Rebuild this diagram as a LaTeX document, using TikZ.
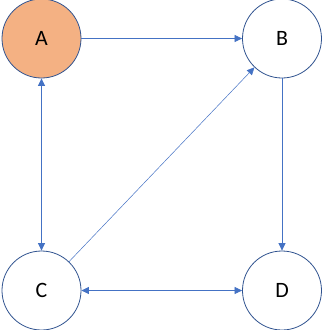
\documentclass[tikz,border=0pt]{standalone}
\usepackage{fontspec}
\setmainfont{Carlito}
\usepackage{tikz}
\usetikzlibrary{arrows.meta, positioning}
\definecolor{nodeOrange}{HTML}{F4B183}
\definecolor{nodeBorder}{HTML}{2F528F}
\definecolor{edgeBlue}{HTML}{4472C4}
\tikzstyle{vertex} = [circle, draw=nodeBorder, line width=0.8pt, minimum size=79bp,
  inner sep=0pt, font=\fontsize{22}{26}\selectfont]
\tikzstyle{arw} = [-{Triangle[length=7.5bp,width=7bp]}, line width=0.8pt, color=edgeBlue]
\tikzstyle{dblarw} = [arw, {Triangle[length=7.5bp,width=7bp]}-{Triangle[length=7.5bp,width=7bp]}]

\begin{document}
\begin{tikzpicture}[x=1bp,y=-1bp]
  \useasboundingbox (0,0) rectangle (322,330);

  % Vertices
  \node[vertex, fill=nodeOrange] (A) at (41.5,38.5) {A};
  \node[vertex, fill=white] (B) at (282,38.5) {B};
  \node[vertex, fill=white] (C) at (41.5,290.5) {C};
  \node[vertex, fill=white] (D) at (282,290.5) {D};

  % Edges
  \draw[arw] (A) -- (B);
  \draw[dblarw] (A) -- (C);
  \draw[arw, line width=0.5pt] (C) -- (B);
  \draw[arw] (B) -- (D);
  \draw[dblarw] (C) -- (D);
\end{tikzpicture}
\end{document}
